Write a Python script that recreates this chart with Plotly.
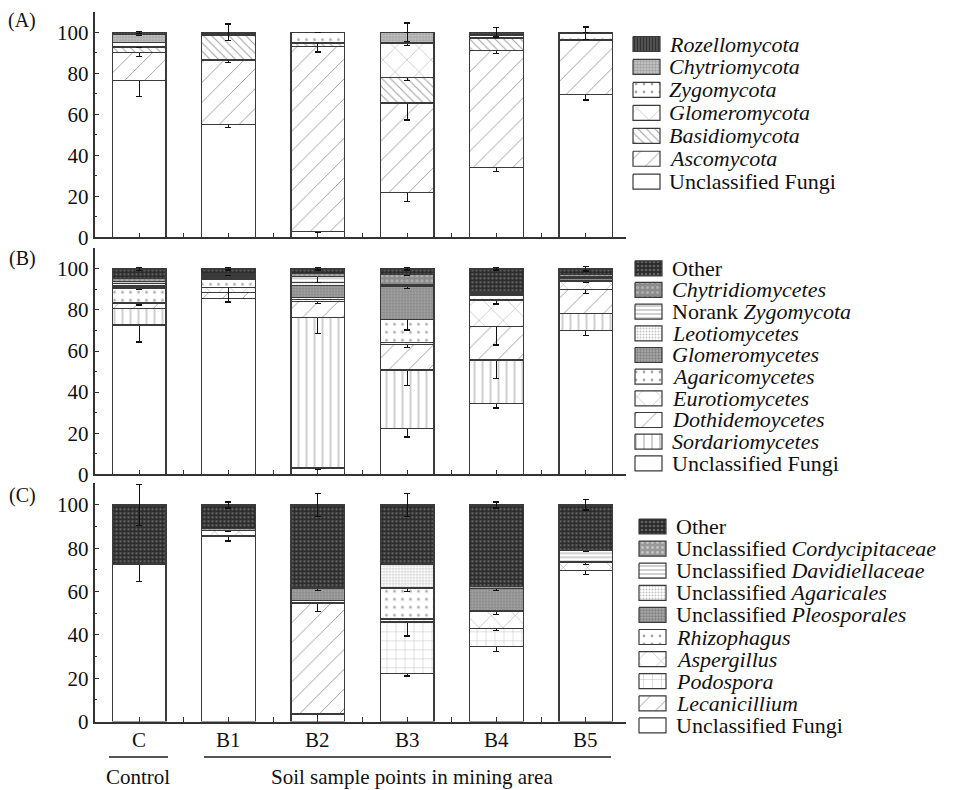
import plotly.graph_objects as go

W, H = 959, 790
FONT = "Liberation Serif"

samples = ["C", "B1", "B2", "B3", "B4", "B5"]

# ---------- Panel A: phylum ----------
unc_A = [76.5, 55.0, 3.0, 22.0, 34.0, 69.5]
asco_A = [13.5, 31.5, 90.0, 43.5, 57.0, 26.5]
basid_A = [2.5, 12.0, 1.5, 12.5, 6.0, 0.5]
glom_A = [0.5, 0.0, 0.5, 16.5, 0.5, 0.0]
zygo_A = [2.0, 0.5, 5.0, 0.5, 1.0, 3.0]
chytr_A = [4.0, 0.3, 0.0, 5.0, 0.5, 0.0]
rozel_A = [1.0, 0.7, 0.0, 0.0, 1.0, 0.5]
err_unc_A = [7.7, 1.5, 0.5, 4.5, 1.8, 2.5]
err_asco_A = [2.0, 1.3, None, 8.3, 1.5, None]
err_basid_A = [None, None, None, 1.5, None, None]
err_glom_A = [0.5, None, 4.7, 1.0, None, None]
err_zygo_A = [None, None, None, None, None, 3.0]
err_chytr_A = [0.5, None, None, 4.5, None, None]
err_rozel_A = [0.5, 4.0, None, None, 2.4, None]

# ---------- Panel B: class ----------
unc_B = [72.7, 85.7, 3.0, 22.4, 34.6, 70.0]
sord_B = [8.0, 0.0, 73.3, 28.4, 21.1, 8.4]
doth_B = [2.7, 2.8, 7.8, 12.5, 16.2, 11.4]
euro_B = [0.3, 2.4, 1.0, 0.7, 13.0, 4.0]
agar_B = [7.0, 4.1, 0.8, 11.2, 2.4, 0.3]
glomc_B = [1.0, 0.5, 6.0, 16.2, 0.3, 1.5]
leot_B = [1.0, 0.5, 1.5, 0.3, 0.7, 0.3]
norank_B = [1.0, 0.5, 3.0, 0.5, 0.5, 0.5]
chytc_B = [1.5, 1.0, 1.2, 5.0, 0.2, 1.0]
other_B = [4.8, 2.5, 2.4, 2.8, 11.0, 2.6]
err_unc_B = [8.3, None, 0.5, 4.2, 2.3, 2.3]
err_sord_B = [None, None, 7.7, 7.7, 9.0, None]
err_doth_B = [1.0, None, 1.0, 1.7, 9.0, 1.8]
err_euro_B = [None, 7.0, None, None, 2.0, 0.5]
err_agar_B = [0.5, None, None, 4.9, None, None]
err_glomc_B = [None, None, None, 1.0, None, None]
err_leot_B = [None, None, None, None, None, None]
err_norank_B = [None, None, 3.2, None, None, None]
err_chytc_B = [None, 0.5, None, 0.5, None, None]
err_other_B = [0.8, 0.5, 0.5, 0.5, 0.5, 1.0]

# ---------- Panel C: genus ----------
unc_C = [72.5, 85.7, 3.5, 22.3, 34.6, 69.6]
lecan_C = [0.0, 0.0, 51.0, 0.0, 0.0, 0.0]
podo_C = [0.0, 0.0, 0.0, 23.7, 8.4, 0.0]
asper_C = [0.0, 2.6, 0.5, 1.3, 8.0, 3.8]
rhizo_C = [0.0, 0.0, 1.0, 14.1, 0.0, 0.0]
pleo_C = [0.0, 0.0, 5.5, 0.5, 10.4, 0.5]
agari_C = [0.0, 0.0, 0.0, 10.5, 0.0, 0.0]
davi_C = [0.0, 0.0, 0.0, 0.3, 0.0, 5.2]
cordy_C = [0.5, 0.7, 0.5, 0.3, 0.8, 0.0]
other_C = [27.0, 11.0, 38.0, 27.0, 37.8, 20.9]
err_unc_C = [8.0, 2.4, 4.0, 1.3, 2.3, 1.7]
err_lecan_C = [None, None, 3.8, None, None, None]
err_podo_C = [None, None, None, 6.5, 1.0, None]
err_asper_C = [None, 0.5, None, None, 1.5, 1.0]
err_rhizo_C = [None, None, None, 1.5, None, None]
err_pleo_C = [None, None, 1.0, None, 1.0, None]
err_agari_C = [None, None, None, None, None, None]
err_davi_C = [None, None, None, None, None, 0.5]
err_cordy_C = [None, None, None, None, None, None]
err_other_C = [9.4, 1.4, 5.2, 5.2, 1.4, 2.4]

y_ticks = [0, 20, 40, 60, 80, 100]

# ---------- fill styles ----------
STY = {
    "white": dict(color="white", pattern=None),
    "diag": dict(color="white", pattern=dict(shape="/", fgcolor="#222", bgcolor="white", size=14, solidity=0.06)),
    "bslash": dict(color="white", pattern=dict(shape="\\", fgcolor="#444", bgcolor="white", size=6, solidity=0.18)),
    "cross": dict(color="white", pattern=dict(shape="x", fgcolor="#222", bgcolor="white", size=17, solidity=0.05)),
    "sdots": dict(color="white", pattern=dict(shape=".", fgcolor="#555", bgcolor="white", size=8, solidity=0.1)),
    "chytr": dict(color="#bbb", pattern=dict(shape=".", fgcolor="#777", bgcolor="#c8c8c8", size=3, solidity=0.5)),
    "rozel": dict(color="#444", pattern=dict(shape="|", fgcolor="#111", bgcolor="#555", size=3, solidity=0.45)),
    "other": dict(color="#333", pattern=dict(shape=".", fgcolor="#9a9a9a", bgcolor="#2a2a2a", size=4, solidity=0.35)),
    "chytc": dict(color="#999", pattern=dict(shape=".", fgcolor="#d0d0d0", bgcolor="#8c8c8c", size=5, solidity=0.3)),
    "wavy": dict(color="white", pattern=dict(shape="-", fgcolor="#666", bgcolor="white", size=4, solidity=0.3)),
    "ldots": dict(color="white", pattern=dict(shape=".", fgcolor="#888", bgcolor="white", size=3, solidity=0.35)),
    "mdots": dict(color="#999", pattern=dict(shape=".", fgcolor="#555", bgcolor="#a8a8a8", size=3, solidity=0.45)),
    "vdash": dict(color="white", pattern=dict(shape="|", fgcolor="#333", bgcolor="white", size=8, solidity=0.12)),
    "grid": dict(color="white", pattern=dict(shape="+", fgcolor="#444", bgcolor="white", size=9, solidity=0.07)),
    "cordy": dict(color="#999", pattern=dict(shape=".", fgcolor="#eee", bgcolor="#9a9a9a", size=5, solidity=0.25)),
}

panelA = [
    ("Unclassified Fungi", unc_A, err_unc_A, "white"),
    ("<i>Ascomycota</i>", asco_A, err_asco_A, "diag"),
    ("<i>Basidiomycota</i>", basid_A, err_basid_A, "bslash"),
    ("<i>Glomeromycota</i>", glom_A, err_glom_A, "cross"),
    ("<i>Zygomycota</i>", zygo_A, err_zygo_A, "sdots"),
    ("<i>Chytriomycota</i>", chytr_A, err_chytr_A, "chytr"),
    ("<i>Rozellomycota</i>", rozel_A, err_rozel_A, "rozel"),
]
panelB = [
    ("Unclassified Fungi", unc_B, err_unc_B, "white"),
    ("<i>Sordariomycetes</i>", sord_B, err_sord_B, "vdash"),
    ("<i>Dothidemoycetes</i>", doth_B, err_doth_B, "diag"),
    ("<i>Eurotiomycetes</i>", euro_B, err_euro_B, "cross"),
    ("<i>Agaricomycetes</i>", agar_B, err_agar_B, "sdots"),
    ("<i>Glomeromycetes</i>", glomc_B, err_glomc_B, "mdots"),
    ("<i>Leotiomycetes</i>", leot_B, err_leot_B, "ldots"),
    ("Norank <i>Zygomycota</i>", norank_B, err_norank_B, "wavy"),
    ("<i>Chytridiomycetes</i>", chytc_B, err_chytc_B, "chytc"),
    ("Other", other_B, err_other_B, "other"),
]
panelC = [
    ("Unclassified Fungi", unc_C, err_unc_C, "white"),
    ("<i>Lecanicillium</i>", lecan_C, err_lecan_C, "diag"),
    ("<i>Podospora</i>", podo_C, err_podo_C, "grid"),
    ("<i>Aspergillus</i>", asper_C, err_asper_C, "cross"),
    ("<i>Rhizophagus</i>", rhizo_C, err_rhizo_C, "sdots"),
    ("Unclassified <i>Pleosporales</i>", pleo_C, err_pleo_C, "mdots"),
    ("Unclassified <i>Agaricales</i>", agari_C, err_agari_C, "ldots"),
    ("Unclassified <i>Davidiellaceae</i>", davi_C, err_davi_C, "wavy"),
    ("Unclassified <i>Cordycipitaceae</i>", cordy_C, err_cordy_C, "cordy"),
    ("Other", other_C, err_other_C, "other"),
]

EDGE = "#3a3a3a"
xpos = list(range(len(samples)))
fig = go.Figure()
for panel, ax in [(panelA, ""), (panelB, "2"), (panelC, "3")]:
    for name, vals, errs, sty in panel:
        m = dict(color=STY[sty]["color"], line=dict(color=EDGE, width=1.3))
        if STY[sty]["pattern"]:
            m["pattern"] = STY[sty]["pattern"]
        fig.add_trace(go.Bar(
            x=xpos, y=vals, name=name, width=0.6, marker=m, showlegend=False,
            error_y=dict(type="data", array=errs, color="#111", thickness=1.3, width=3),
            xaxis="x" + ax, yaxis="y" + ax,
        ))

# ---------- hand-built legends (swatch + label), drawn in a pixel-space overlay axis ----------
# (swatch left, swatch right, first item centre, item step, text left)
legend_geo = [
    (panelA, 633, 660, 44.0, 22.95, 667),
    (panelB, 635, 662, 268.3, 21.67, 670),
    (panelC, 639, 666, 526.5, 22.1, 674),
]
annots = []
for panel, sx0, sx1, yc0, step, tx in legend_geo:
    items = list(reversed(panel))
    for k, (name, _v, _e, sty) in enumerate(items):
        yc = yc0 + k * step
        y0, y1 = yc - 7.5, yc + 7.5
        kw = dict(fillcolor=STY[sty]["color"])
        if STY[sty]["pattern"]:
            kw["fillpattern"] = STY[sty]["pattern"]
        fig.add_trace(go.Scatter(
            x=[sx0, sx1, sx1, sx0, sx0], y=[y0, y0, y1, y1, y0],
            mode="lines", fill="toself", line=dict(color=EDGE, width=1.2),
            showlegend=False, hoverinfo="skip", xaxis="x4", yaxis="y4", **kw,
        ))
        annots.append(dict(text=name, x=tx, y=yc, xref="x4", yref="y4", xanchor="left",
                           yanchor="middle", showarrow=False,
                           font=dict(family=FONT, size=22, color="#111")))

def px_x(p):
    return p / W

def px_y(p):
    return 1 - p / H

xdom = [px_x(94.5), px_x(626)]
ydoms = {
    "": [px_y(237.3), px_y(11.7)],
    "2": [px_y(474.3), px_y(248.3)],
    "3": [px_y(721.5), px_y(483.3)],
}

tickv = [i * 0.5 for i in range(0, 11)]
layout = dict(
    width=W, height=H, margin=dict(l=0, r=0, t=0, b=0, pad=0, autoexpand=False),
    paper_bgcolor="white", plot_bgcolor="rgba(0,0,0,0)",
    barmode="stack", bargap=0.4, showlegend=False,
    font=dict(family=FONT, color="#111", size=20),
)
for ax in ["", "2", "3"]:
    layout["xaxis" + ax] = dict(
        domain=xdom, range=[-0.5, 5.45], anchor="y" + ax, automargin=False,
        tickmode="array", tickvals=tickv, ticktext=["" for _ in tickv],
        ticks="inside", ticklen=5, tickwidth=1.2, tickcolor="#333",
        showline=True, linecolor="#333", linewidth=1.5, showgrid=False, zeroline=False,
    )
    layout["yaxis" + ax] = dict(
        domain=ydoms[ax], range=[0, 110], anchor="x" + ax, automargin=False,
        tickmode="array", tickvals=y_ticks,
        ticks="inside", ticklen=5, tickwidth=1.2, tickcolor="#333",
        minor=dict(tickvals=[10, 30, 50, 70, 90], ticks="inside", ticklen=3, tickcolor="#333"),
        showline=True, linecolor="#333", linewidth=1.5, showgrid=False, zeroline=False,
        tickfont=dict(family=FONT, size=21, color="#111"),
    )
layout["xaxis4"] = dict(domain=[0, 1], range=[0, W], anchor="y4", visible=False, fixedrange=True, automargin=False)
layout["yaxis4"] = dict(domain=[0, 1], range=[H, 0], anchor="x4", visible=False, fixedrange=True, automargin=False)

# sample labels under panel C, positioned through panel C's own x axis
for i, s in enumerate(samples):
    annots.append(dict(text=s, x=xpos[i], y=740, xref="x3", yref="y4", xanchor="center",
                       yanchor="middle", showarrow=False,
                       font=dict(family=FONT, size=21, color="#111")))

for lab, yy in [("(A)", 20), ("(B)", 258), ("(C)", 495)]:
    annots.append(dict(text=lab, x=22, y=yy, xref="x4", yref="y4",
                       xanchor="center", yanchor="middle",
                       showarrow=False, font=dict(family=FONT, size=20, color="#111")))
annots.append(dict(text="Control", x=138, y=777, xref="x4", yref="y4",
                   xanchor="center", yanchor="middle",
                   showarrow=False, font=dict(family=FONT, size=21, color="#111")))
annots.append(dict(text="Soil sample points in mining area", x=412, y=777,
                   xref="x4", yref="y4", xanchor="center", yanchor="middle",
                   showarrow=False, font=dict(family=FONT, size=21, color="#111")))
layout["annotations"] = annots
layout["shapes"] = [
    dict(type="line", xref="x4", yref="y4", x0=109, x1=168, y0=757, y1=757,
         line=dict(color="#555", width=2)),
    dict(type="line", xref="x4", yref="y4", x0=204, x1=611, y0=757, y1=757,
         line=dict(color="#555", width=2)),
]
fig.update_layout(**layout)
fig.write_html("out.html")
